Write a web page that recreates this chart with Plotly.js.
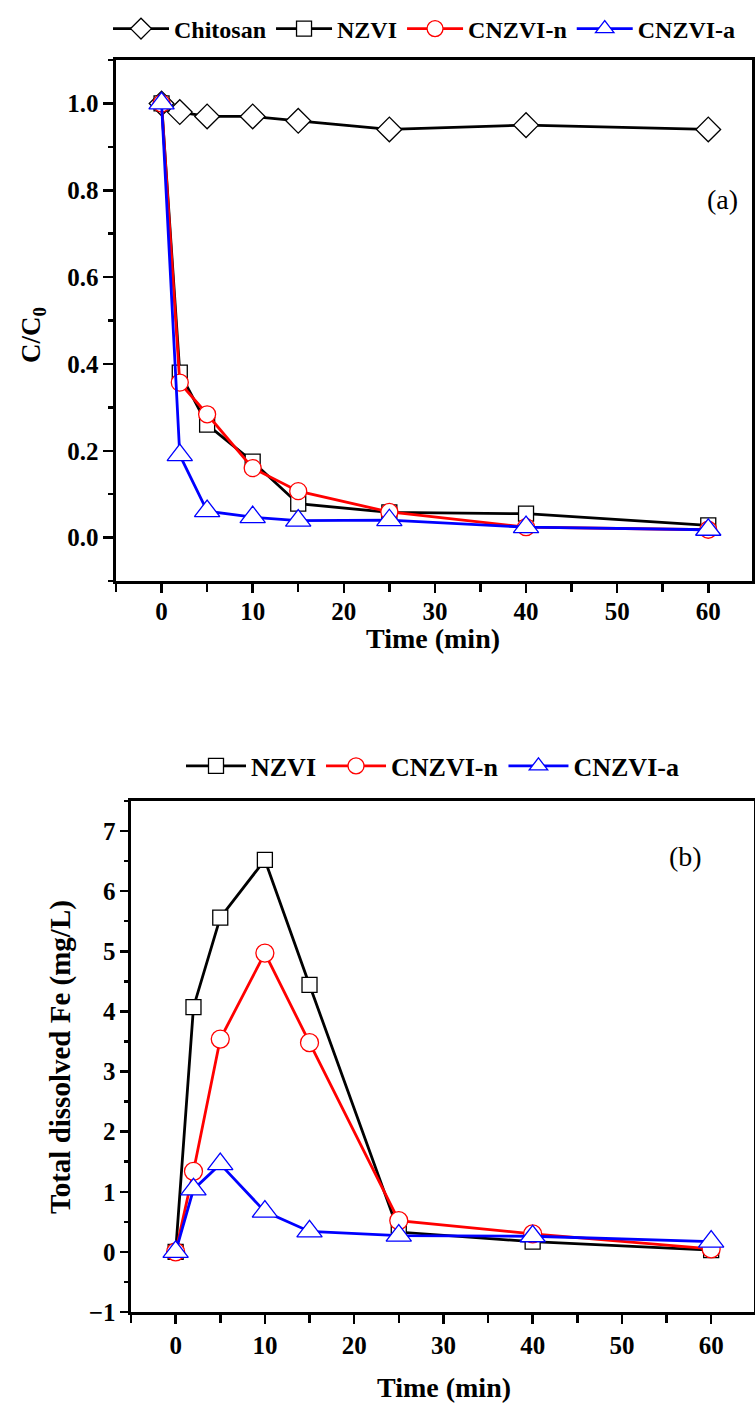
<!DOCTYPE html>
<html>
<head>
<meta charset="utf-8">
<script src="https://cdn.plot.ly/plotly-3.0.1.min.js"></script>
<style>
  html, body { margin: 0; padding: 0; background: #fff; }
  #chart { width: 755px; height: 1403px; }
</style>
</head>
<body>
<div id="chart"></div>
<script>
// ---- data ----
const time = [0, 2, 5, 10, 15, 25, 40, 60];

// (a) C/C0
const chitosanA = [1.0, 0.98, 0.97, 0.97, 0.96, 0.94, 0.95, 0.94];
const nzviA     = [1.0, 0.38, 0.26, 0.175, 0.078, 0.058, 0.055, 0.028];
const cnzviNA   = [1.0, 0.357, 0.284, 0.16, 0.107, 0.059, 0.024, 0.018];
const cnzviAA   = [1.0, 0.19, 0.061, 0.047, 0.039, 0.04, 0.024, 0.018];

// (b) Total dissolved Fe (mg/L)
const nzviB   = [0, 4.07, 5.56, 6.52, 4.44, 0.33, 0.17, 0.03];
const cnzviNB = [0, 1.34, 3.54, 4.97, 3.48, 0.52, 0.30, 0.05];
const cnzviAB = [0, 1.04, 1.46, 0.67, 0.34, 0.27, 0.26, 0.17];

const seriesNames = ['Chitosan', 'NZVI', 'CNZVI-n', 'CNZVI-a'];
const xTitle = 'Time (min)';
const yTitleA = 'C/C<sub>0</sub>';
const yTitleB = 'Total dissolved Fe (mg/L)';

// ---- styling ----
const W = 755, H = 1403;
const FONT = 'Liberation Serif, Times New Roman, serif';
const px = v => v / W;
const py = v => 1 - v / H;

function tr(x, y, name, color, symbol, size, xa, ya, leg) {
  return {
    x: x, y: y, name: name, type: 'scatter', mode: 'lines+markers',
    xaxis: xa, yaxis: ya, legend: leg,
    line: { color: color, width: 2.8 },
    marker: { symbol: symbol, size: size, color: '#ffffff',
              line: { color: color, width: 1.3 } },
    hoverinfo: 'x+y'
  };
}

const data = [
  tr(time, chitosanA, seriesNames[0], '#000000', 'diamond', 19, 'x', 'y', 'legend'),
  tr(time, nzviA,     seriesNames[1], '#000000', 'square', 15, 'x', 'y', 'legend'),
  tr(time, cnzviNA,   seriesNames[2], '#ff0000', 'circle', 17, 'x', 'y', 'legend'),
  tr(time, cnzviAA,   seriesNames[3], '#0000ff', 'triangle-up', 22, 'x', 'y', 'legend'),
  tr(time, nzviB,     seriesNames[1], '#000000', 'square', 15, 'x2', 'y2', 'legend2'),
  tr(time, cnzviNB,   seriesNames[2], '#ff0000', 'circle', 18, 'x2', 'y2', 'legend2'),
  tr(time, cnzviAB,   seriesNames[3], '#0000ff', 'triangle-up', 22, 'x2', 'y2', 'legend2')
];

const tickFont = { family: FONT, size: 25, color: '#000', weight: 'bold' };

function xAxis(domain, anchor, standoff) {
  return {
    domain: domain, anchor: anchor, range: [-5, 64.8],
    tick0: 0, dtick: 10, ticks: 'outside', ticklen: 9, tickwidth: 2.5, tickcolor: '#000',
    minor: { dtick: 5, tick0: 0, ticks: 'outside', ticklen: 8, tickwidth: 2.5, tickcolor: '#000' },
    showline: true, linewidth: 2.6, linecolor: '#000', mirror: true, ticklabelstandoff: standoff,
    showgrid: false, zeroline: false, tickfont: tickFont, fixedrange: true
  };
}

const layout = {
  width: W, height: H,
  margin: { l: 0, r: 0, t: 0, b: 0 },
  paper_bgcolor: '#fff', plot_bgcolor: '#fff',
  font: { family: FONT, size: 24, color: '#000' },
  showlegend: true,
  xaxis: xAxis([px(116), px(752)], 'y', -3),
  yaxis: {
    domain: [py(581), py(60)], anchor: 'x', range: [-0.1, 1.1],
    tick0: 0, dtick: 0.2, tickformat: '.1f',
    ticks: 'outside', ticklen: 10, tickwidth: 2.5, tickcolor: '#000',
    minor: { dtick: 0.1, tick0: 0, ticks: 'outside', ticklen: 5, tickwidth: 2.5, tickcolor: '#000' },
    showline: true, linewidth: 2.6, linecolor: '#000', mirror: true,
    showgrid: false, zeroline: false, tickfont: tickFont, fixedrange: true
  },
  yaxis3: {
    overlaying: 'y', side: 'right', anchor: 'x', range: [-0.1, 1.1],
    tick0: 0, dtick: 0.1, ticks: 'inside', ticklen: 9, tickwidth: 2.5, tickcolor: '#000',
    showticklabels: false, showline: false, showgrid: false, zeroline: false, fixedrange: true
  },
  xaxis2: xAxis([px(131), px(754)], 'y2', 0),
  yaxis2: {
    domain: [py(1312), py(801)], anchor: 'x2', range: [-1, 7.5],
    tick0: 0, dtick: 1,
    ticks: 'outside', ticklen: 8, tickwidth: 2.5, tickcolor: '#000',
    minor: { dtick: 0.5, tick0: 0, ticks: 'outside', ticklen: 4, tickwidth: 2.5, tickcolor: '#000' },
    showline: true, linewidth: 2.6, linecolor: '#000', mirror: true,
    showgrid: false, zeroline: false, tickfont: tickFont, fixedrange: true
  },
  yaxis4: {
    overlaying: 'y2', side: 'right', anchor: 'x2', range: [-1, 7.5],
    tick0: 0, dtick: 1, ticks: 'inside', ticklen: 9, tickwidth: 2.5, tickcolor: '#000',
    minor: { dtick: 0.5, tick0: 0, ticks: 'inside', ticklen: 5, tickwidth: 2.5, tickcolor: '#000' },
    showticklabels: false, showline: false, showgrid: false, zeroline: false, fixedrange: true
  },
  legend: {
    orientation: 'h', x: px(108), y: py(29), xanchor: 'left', yanchor: 'middle',
    itemwidth: 56,
    font: { family: FONT, size: 24, color: '#000', weight: 'bold' },
    bgcolor: 'rgba(0,0,0,0)', itemclick: false, itemdoubleclick: false, tracegroupgap: 0
  },
  legend2: {
    orientation: 'h', x: px(181), y: py(766), xanchor: 'left', yanchor: 'middle',
    itemwidth: 60,
    font: { family: FONT, size: 26, color: '#000', weight: 'bold' },
    bgcolor: 'rgba(0,0,0,0)', itemclick: false, itemdoubleclick: false
  },
  annotations: [
    { text: xTitle, xref: 'paper', yref: 'paper', x: px(433), y: py(638), showarrow: false,
      xanchor: 'center', yanchor: 'middle', font: { family: FONT, size: 28, weight: 'bold' } },
    { text: yTitleA, xref: 'paper', yref: 'paper', x: px(33), y: py(335), showarrow: false,
      textangle: -90, xanchor: 'center', yanchor: 'middle', font: { family: FONT, size: 27, weight: 'bold' } },
    { text: '(a)', xref: 'paper', yref: 'paper', x: px(722), y: py(200), showarrow: false,
      xanchor: 'center', yanchor: 'middle', font: { family: FONT, size: 28 } },
    { text: xTitle, xref: 'paper', yref: 'paper', x: px(444), y: py(1387), showarrow: false,
      xanchor: 'center', yanchor: 'middle', font: { family: FONT, size: 28, weight: 'bold' } },
    { text: yTitleB, xref: 'paper', yref: 'paper', x: px(60), y: py(1057), showarrow: false,
      textangle: -90, xanchor: 'center', yanchor: 'middle', font: { family: FONT, size: 29, weight: 'bold' } },
    { text: '(b)', xref: 'paper', yref: 'paper', x: px(685), y: py(857), showarrow: false,
      xanchor: 'center', yanchor: 'middle', font: { family: FONT, size: 28 } }
  ]
};

Plotly.newPlot('chart', data, layout, { staticPlot: true, displayModeBar: false });
</script>
</body>
</html>
